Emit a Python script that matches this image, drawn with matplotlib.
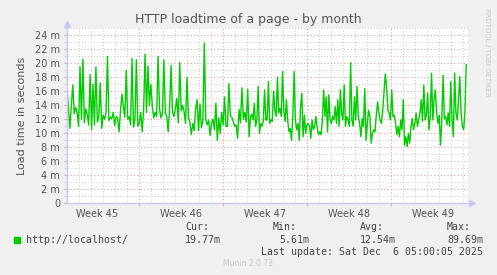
import matplotlib
matplotlib.use("Agg")
import numpy as np
import matplotlib.pyplot as plt
from matplotlib.ticker import MultipleLocator

# load time (ms); first part Nov 4 -> mid month
load_ms_a = [
    16.5, 13.5, 10.7, 14, 16.9, 12.8, 13.7, 13, 11, 19.5,
    12, 20.6, 11.5, 13.5, 12.7, 11.2, 18.4, 10.5, 17, 11.2,
    19.5, 11.6, 12.4, 17.2, 10.7, 12.6, 12, 13, 21, 11.8,
    12.3, 12.1, 13, 11.1, 12.4, 12.2, 10.2, 13.2, 15.6, 13.8,
    12.3, 19, 12, 12.4, 11.2, 20.7, 10.9, 12, 20.5, 11,
    11.4, 13, 10.2, 13.4, 21.3, 13, 19.6, 14, 17, 14,
    12.2, 13, 12.4, 21, 13.5, 12.2, 12.8, 20.5, 13, 12.4,
    10.2, 13.8, 19.7, 13, 12.4, 13.5, 15, 11.5, 20.1, 13.2,
    14, 13.1, 11.4, 18, 12.3, 11.6, 9.8, 11.4, 10.4, 13.5,
    14.8, 10.4, 14.2, 10.8, 11.8, 22.9, 12, 11.2, 11.9, 9.7,
    11.5, 12, 10.5, 14.3, 9, 12.2, 10, 13, 11.2, 15.2,
    11, 11, 17.1, 12.5, 12.3, 11.7, 11, 11.2, 9.3, 13.4,
    11.5, 16.5, 12, 13, 11.6, 16.3, 9.5,
]
# second part, mid month -> last update
load_ms_b = [
    12.4, 12.7, 11.9, 14.3, 11, 11.9, 16.7, 10, 11.4, 11,
    11.7, 16.2, 11.9, 11.9, 17.4, 11.4, 11.9, 11.7, 16, 13.3,
    12.4, 18, 12.9, 13.6, 12.4, 18.8, 13.1, 11.7, 14.8, 11.9,
    10.2, 10.7, 9, 12.4, 18.8, 11.9, 10.5, 11.4, 9, 13.8,
    15.7, 9.5, 12.6, 10, 11.2, 11.4, 11, 9.3, 11.9, 10.5,
    11, 12.4, 10.7, 9.8, 10.2, 9.8, 11.9, 16.2, 12.4, 15.2,
    10.2, 15.5, 11.9, 11.4, 12.4, 11.9, 13.8, 11.4, 14.8, 11,
    16.2, 12.9, 11.9, 16.9, 11, 12.4, 11.9, 11, 20.1, 11.9,
    11, 15.2, 11.9, 16.7, 12.4, 11.4, 9.5, 12.1, 11, 16.4,
    9, 11.4, 13.3, 12.4, 8.6, 10, 10.5, 10.2, 12.6, 14.5,
    12.9, 11.9, 11.4, 13.3, 16, 18.5, 16.7, 13.3, 12.9, 11.9,
    16.2, 12.4, 12.6, 11.4, 9.8, 11, 9.5, 11.9, 10.5, 14.8,
    8.3, 9.5, 8.1, 10, 8.6, 11, 12.1, 10.5, 11.4, 12.9,
    11, 11.9, 12.9, 14.8, 11.7, 16.9, 11.9, 12.6, 15.7, 10.5,
    12.4, 18.6, 11.9, 14.8, 16.2, 12.9, 11.4, 12.6, 8.3, 11.9,
    18.3, 12.1, 12.4, 11.2, 12.9, 11, 17.4, 11.9, 9.5, 18.6,
    12.9, 11.9, 14.8, 18.1, 12.9, 11, 10.5, 12.9, 19.8,
]
# time spans in days from the left edge of the graph
span_a = (0.0, 15.17)
span_b = (15.28, 33.25)
x_end = 33.4

week_labels = ["Week 45", "Week 46", "Week 47", "Week 48", "Week 49"]
week_mid = [2.5, 9.5, 16.5, 23.5, 30.5]
week_starts = [6, 13, 20, 27]

series_name = "http://localhost/"
stat_names = ["Cur:", "Min:", "Avg:", "Max:"]
stat_values = ["19.77m", "5.61m", "12.54m", "89.69m"]
last_update = "Last update: Sat Dec  6 05:00:05 2025"

BG = "#f0f0f0"
TXT = "#555555"
LEG = "#444444"
GREEN = "#00cc00"
AXIS = "#c8c8f0"
RED = "#dca0a8"
GREY = "#c8c8c8"
DOT = (0, (1, 2))

fig = plt.figure(figsize=(4.97, 2.75), dpi=100, facecolor=BG)
ax = fig.add_axes([67 / 497, 1 - 203.3 / 275, 401 / 497, 175 / 275])
ax.set_facecolor("white")

t_a = np.linspace(span_a[0], span_a[1], len(load_ms_a))
t_b = np.linspace(span_b[0], span_b[1], len(load_ms_b))
t = np.concatenate([t_a, t_b])
y = np.array(load_ms_a + load_ms_b)

ax.set_xlim(0, x_end)
ax.set_ylim(0, 25)

# grid: grey every day / 1 m, red every week / 2 m
for d in range(1, int(x_end) + 1):
    if d not in week_starts:
        ax.axvline(d, color=GREY, linestyle=DOT, lw=0.7, zorder=1)
for ws in week_starts:
    ax.axvline(ws, color=RED, linestyle=DOT, lw=0.8, zorder=1)
for v in range(1, 26):
    ax.axhline(v, color=RED if v % 2 == 0 else GREY, linestyle=DOT,
               lw=0.8 if v % 2 == 0 else 0.7, zorder=1)

ax.plot(t, y, color=GREEN, lw=1.0, zorder=3)

ax.set_xticks(week_mid)
ax.set_xticklabels(week_labels)
ax.set_xticks(week_starts, minor=True)
yt = np.arange(0, 25, 2)
ax.set_yticks(yt)
ax.set_yticklabels(["0" if v == 0 else f"{v} m" for v in yt])
ax.yaxis.set_minor_locator(MultipleLocator(1))
ax.tick_params(axis="x", which="major", length=0, pad=4, labelsize=7, labelcolor=TXT)
ax.tick_params(axis="x", which="minor", length=2, color=RED, direction="out")
ax.tick_params(axis="y", which="major", length=2, pad=3, labelsize=7, labelcolor=TXT, color=RED)
ax.tick_params(axis="y", which="minor", length=2, color=GREY)

for s in ["top", "right"]:
    ax.spines[s].set_visible(False)
for s in ["left", "bottom"]:
    ax.spines[s].set_color(AXIS)
    ax.spines[s].set_linewidth(1.0)
    ax.spines[s].set_zorder(4)
ax.plot([0], [1.025], marker="^", ms=4, color=AXIS, transform=ax.transAxes, clip_on=False)
ax.plot([1.01], [0], marker=">", ms=4, color=AXIS, transform=ax.transAxes, clip_on=False)

ax.set_ylabel("Load time in seconds", fontsize=8, color=TXT, labelpad=6)
fig.text(0.5, 1 - 19 / 275, "HTTP loadtime of a page - by month", ha="center", va="center",
         fontsize=9, color=TXT)
fig.text(487 / 497, 1 - 8 / 275, "RRDTOOL / TOBI OETIKER", rotation=270, ha="center", va="top",
         fontsize=5, color="#c8c8c8")

# legend block
mono = "DejaVu Sans Mono"
fig.patches.append(plt.Rectangle((14 / 497, 1 - 243 / 275), 6 / 497, 6 / 275,
                                 transform=fig.transFigure, color=GREEN))
fig.text(26 / 497, 1 - 240 / 275, series_name, family=mono, fontsize=7.1, color=LEG, va="center")
stat_right = [221, 309, 396, 483]
head_left = [185, 273, 360, 447]
for name, val, hl, vr in zip(stat_names, stat_values, head_left, stat_right):
    fig.text(hl / 497, 1 - 227 / 275, name, family=mono, fontsize=7.1, color=LEG, va="center")
    fig.text(vr / 497, 1 - 240 / 275, val, family=mono, fontsize=7.1, color=LEG,
             va="center", ha="right")
fig.text(483 / 497, 1 - 252 / 275, last_update, family=mono, fontsize=7.1, color=LEG,
         va="center", ha="right")
fig.text(248 / 497, 1 - 264 / 275, "Munin 2.0.73", fontsize=5.5, color="#c8c8c8",
         ha="center", va="center")

fig.savefig("out.png", dpi=100, facecolor=BG)
